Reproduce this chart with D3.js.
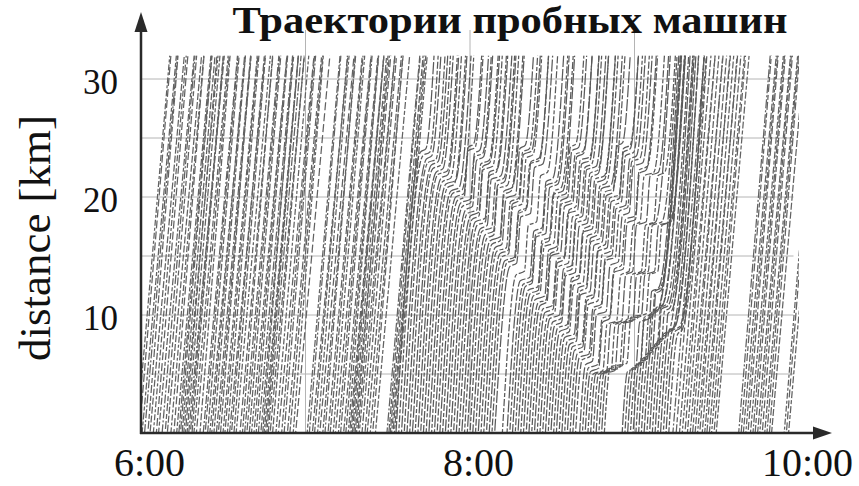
<!DOCTYPE html>
<html lang="ru">
<head>
    <meta charset="UTF-8">
    <title>Траектории пробных машин</title>
    <script src="https://d3js.org/d3.v7.min.js"></script>
    <style>
        body { margin: 0; background: #fff; }
        text { font-family: "Times New Roman", "Liberation Serif", serif; fill: #111; }
    </style>
</head>
<body>
    <div id="chart"></div>
    <script>
        // time in minutes after 6:00, distance in km
        const timeTicks = [0, 120, 240];
        const timeTickLabels = ["6:00", "8:00", "10:00"];
        const timeGrid = [60, 120, 180];
        const distTicks = [10, 20, 30];
        const distGrid = [5, 10, 15, 20, 25, 30];
        const roadLength = 32;

        // straight trips: [minute at km 0, minutes to drive the whole road]
        const freeTrips = [
            [-1.5,12],[-0.6,11.5],[0.4,12.5],[1.3,12],[2.5,11],[3.3,12.5],[4.5,12],[5.6,11.5],[6.4,13],[7.7,12],
            [8.8,11.5],[9.6,12.5],[10.9,12],[12.0,11],[13.0,12.5],[13.8,12],[14.4,11.5],[15.0,12],[15.6,12.5],[16.2,11.5],
            [16.8,12],[17.4,13],[18.0,12],[18.6,11.5],[19.3,12.5],[20.2,12],[21.5,11],[22.7,12.5],[23.4,12],[24.3,11.5],
            [25.1,13],[25.8,12],[26.6,11.5],[27.5,12.5],[28.2,12],[29.0,11],[29.9,12.5],[30.6,12],[31.5,11.5],[32.3,13],
            [33.0,12],[33.9,11.5],[34.7,12.5],[36.1,12],[37.0,11],[37.8,12.5],[38.6,12],[39.5,11.5],[40.3,13],[41.2,12],
            [42.0,11.5],[42.8,12.5],[43.7,12],[44.4,11],[44.9,12.5],[45.4,12],[45.9,11.5],[46.4,12],[47.1,12.5],[48.0,11.5],
            [49.2,12],[50.1,13],[51.3,12],[52.2,11.5],[53.4,12.5],[54.3,12],[55.5,11],[56.4,12.5],
            [60.6,12],[61.4,11.5],[62.5,13],[63.3,12],[64.4,11.5],[65.2,12.5],[66.3,12],[67.1,11],[68.2,12.5],[69.0,12],
            [70.1,11.5],[70.9,13],[72.0,12],[72.8,11.5],[73.9,12.5],[74.7,12],[75.6,11],[76.1,12.5],[76.6,12],[77.1,11.5],
            [77.6,12],[78.1,12.5],[78.6,11.5],[79.1,12],[79.6,13],[80.6,12],[81.7,11.5],[82.5,12.5],[83.6,12],[84.5,11],
            [85.5,12.5],[89.7,12],[90.4,11.5],[90.9,12],[91.4,12.5],[91.9,11.5],[92.4,12],
            [194.0,11.5],[195.2,11],[196.4,11.5],[197.4,12],[198.4,11],[199.3,11.5],[200.3,12],[201.2,11],
            [202.1,11.5],[203.0,12],[203.8,11],[204.7,11.5],[205.6,12],[206.4,11],[207.3,11.5],[208.1,12],
            [209.0,11.5],[209.8,12],[218.0,11.5],[218.9,11],[219.7,12],[220.6,11.5],[221.4,11],[222.3,12],[223.2,11.5],
            [224.0,11],[224.9,12],[225.7,11.5],[226.6,11],[227.5,12],[228.3,11.5],[229.2,11],[230.0,12],
            [234.6,11.5],[235.4,11],[236.2,12]
        ];

        // trips through the jam: [minute at km 0, free driving minutes, then pairs (km of slowdown, minutes lost)]
        const jamTrips = [
            [93,12,23.8,2.0],[94,12,23.5,2.5],[95,12.5,23.2,2.0],[96,12,22.9,3.0],[97,12.5,22.7,2.5],
            [98,12,22.4,3.0],[99,12.5,22.1,2.5],[100,12,21.9,3.5],[101,12.5,21.6,2.5],[102,12,21.3,3.0],
            [103,12.5,21.1,3.5],[104,12,20.8,2.5],[105,12.5,20.5,3.0],[106,12,20.3,3.5],
            [107,12.5,20.0,3.0,24.2,2.0],[108,12,19.7,2.5,23.9,2.5],[109,12.5,19.5,3.5,23.7,2.0],
            [110,12,19.2,3.0,23.4,3.0],[111,12.5,18.9,2.5,23.1,2.5],[112,12,18.6,3.5,22.8,3.0],
            [113,12.5,18.4,3.0,22.6,2.5],[114,12,18.1,2.5,22.3,3.5],[115,12.5,17.9,3.5,22.1,3.0],
            [116,12,17.6,3.0,21.8,2.5],[117,12.5,17.3,2.5,21.5,3.5],[118,12,17.1,3.5,21.3,3.0],
            [119,12.5,16.8,3.0,21.0,2.5],[120,12,16.5,2.5,20.7,3.5],[121,12.5,16.3,3.5,20.5,3.0],
            [122,12,16.0,3.0,20.2,2.5],
            [123,12.5,15.7,2.5,19.9,3.5,24.1,2.0],[124,12,15.4,3.5,19.6,3.0,23.8,2.5],
            [125,12.5,15.2,3.0,19.4,2.5,23.6,3.0],[126,12,14.9,2.5,19.1,3.5,23.3,2.5],
            [127,12.5,14.6,3.5,18.8,3.0,23.0,3.0],[128,12,14.4,3.0,18.6,2.5,22.8,3.5],
            [129,12.5,14.1,2.5,18.3,3.5,22.5,3.0],[131.8,12,13.4,3.0,17.6,3.0,21.8,2.5],
            [133.5,12,12.9,3.5,17.1,3.0,21.3,2.5],[134.5,12.5,12.6,3.0,16.8,2.5,21.0,3.5],
            [135.5,12,12.4,2.5,16.6,3.5,20.8,3.0],[136.5,12.5,12.1,3.5,16.3,3.0,20.5,2.5],
            [137.5,12,11.8,3.0,16.0,2.5,20.2,3.5],
            [138.5,12.5,11.6,2.5,15.8,3.5,20.0,3.0,24.2,2.0],[139.5,12,11.3,3.5,15.5,3.0,19.7,2.5,23.9,2.5],
            [140.5,12.5,11.0,3.0,15.2,2.5,19.4,3.5,23.6,3.0],[141.5,12,10.8,2.5,15.0,3.5,19.2,3.0,23.4,2.5],
            [142.5,12.5,10.5,3.5,14.7,3.0,18.9,2.5,23.1,3.5],[143.5,12,10.2,3.0,14.4,2.5,18.6,3.5,22.8,3.0],
            [144.5,12.5,9.9,2.5,14.1,3.5,18.3,3.0,22.5,2.5],[145.5,12,9.7,3.5,13.9,3.0,18.1,2.5,22.3,3.5],
            [146.5,12.5,9.4,3.0,13.6,2.5,17.8,3.5,22.0,3.0],[147.5,12,9.1,2.5,13.3,3.5,17.5,3.0,21.7,2.5],
            [148.5,12.5,8.9,3.5,13.1,3.0,17.3,2.5,21.5,3.5],[149.5,12,8.6,3.0,12.8,2.5,17.0,3.5,21.2,3.0],
            [150.5,12.5,8.3,2.5,12.5,3.5,16.7,3.0,20.9,2.5],[151.5,12,8.1,3.5,12.3,3.0,16.5,2.5,20.7,3.5],
            [152.5,12.5,7.8,3.0,12.0,2.5,16.2,3.5,20.4,3.0],
            [153.5,12,7.5,2.5,11.7,3.5,15.9,3.0,20.1,2.5,24.3,2.0],[154.5,12.5,7.3,3.5,11.5,3.0,15.7,2.5,19.9,3.5,24.1,2.5],
            [155.5,12,7.0,3.0,11.2,2.5,15.4,3.5,19.6,3.0,23.8,2.5],[156.5,12.5,6.7,2.5,10.9,3.5,15.1,3.0,19.3,2.5,23.5,3.0],
            [157.5,12,6.4,3.5,10.6,3.0,14.8,2.5,19.0,3.5,23.2,2.5],[158.5,12.5,6.2,3.0,10.4,2.5,14.6,3.5,18.8,3.0,23.0,3.0],
            [160,12,5.8,2.5,10.0,3.5,14.2,3.0,18.4,2.5,22.6,3.5],[161,12.5,5.5,3.5,9.7,3.0,13.9,2.5,18.1,3.5,22.3,3.0],
            [162,12,5.2,3.0,9.4,2.5,13.6,3.5,17.8,3.0,22.0,2.5],[163,12.5,5.0,3.5,9.2,3.5,13.4,3.0,17.6,2.5,21.8,3.5],
            [164,12,5.0,4.0,9.2,4.0,13.4,2.5,17.6,3.5,21.8,3.0],[165,12.5,5.0,4.5,9.2,4.5,13.4,3.5,17.6,3.0,21.8,2.5],
            [166,12,5.0,5.0,9.2,5.0,13.4,3.0,17.6,2.5],[167,12.5,5.2,5.5,9.4,5.0,13.4,2.5,17.6,3.5],
            [168,12,5.4,5.5,9.6,5.5,13.4,3.5,17.6,4.5],[169,12.5,5.6,6.0,9.8,5.5,13.4,3.0,17.6,3.0],
            [175.5,12,5.2,3.0,9.4,3.5,12.0,2.5],[176.5,12.5,5.4,3.5,9.6,3.0,12.0,2.0],[177.5,12,5.6,2.5,9.8,3.5,11.8,2.0],
            [178.5,12.5,5.8,3.0,10.0,3.0],[179.5,12,6.0,3.0,10.2,2.5],[180.5,12.5,6.3,2.5,10.4,3.0],
            [181.5,12,6.6,2.5,10.6,2.5],[182.5,12.5,6.9,3.0,10.6,2.0],[183.5,12,7.2,2.5,10.5,2.5],
            [184.5,12.5,7.5,2.5,10.3,2.0],[185.5,12,7.8,3.0,10.1,1.5],
            [186.5,12.5,8.1,2.5],[187.5,12,8.4,3.0],[188.5,12.5,8.6,2.5],[189.5,12,8.7,2.0],
            [190.5,12.5,8.7,2.5],[191.5,12,8.6,2.0],[192.5,12.5,8.4,1.5]
        ];

        const width = 859, height = 486;
        const x = d3.scaleLinear().domain([0, 240]).range([141, 799]);
        const y = d3.scaleLinear().domain([0, roadLength]).range([433, 55.4]);

        const svg = d3.select("#chart").append("svg")
            .attr("width", width)
            .attr("height", height);

        svg.append("defs").append("clipPath").attr("id", "plot")
            .append("rect")
            .attr("x", x(0)).attr("y", y(roadLength))
            .attr("width", x(240) - x(0)).attr("height", y(0) - y(roadLength));

        // grid
        svg.append("g").selectAll("line").data(distGrid).join("line")
            .attr("x1", x(0)).attr("x2", x(238))
            .attr("y1", d => y(d)).attr("y2", d => y(d))
            .attr("stroke", "#b4b4b4").attr("stroke-width", 1);
        svg.append("g").selectAll("line").data(timeGrid).join("line")
            .attr("x1", d => x(d)).attr("x2", d => x(d))
            .attr("y1", 30).attr("y2", y(0))
            .attr("stroke", "#b4b4b4").attr("stroke-width", 1);

        const line = d3.line().x(d => x(d[0])).y(d => y(d[1])).curve(d3.curveMonotoneX);

        // trajectory from start, pace and slowdowns
        function jamPath(row) {
            const t0 = row[0], pace = row[1] / roadLength;
            const pts = [[t0, 0]];
            let t = t0, k = 0;
            for (let i = 2; i < row.length; i += 2) {
                t += (row[i] - k) * pace;
                pts.push([t, row[i]]);
                t += row[i + 1];
                k = row[i] + 0.3;
                pts.push([t, k]);
            }
            pts.push([t + (roadLength - k) * pace, roadLength]);
            return pts;
        }

        const dashes = ["6,2,3,2", "8,3", "4,2,7,2", "9,2,2,2", "5,3,8,2", "7,2"];
        const plot = svg.append("g").attr("clip-path", "url(#plot)");

        plot.selectAll(".free").data(freeTrips).join("path")
            .attr("class", "free")
            .attr("fill", "none")
            .attr("stroke", "#626262")
            .attr("stroke-width", 1.25)
            .attr("stroke-dasharray", (d, i) => dashes[i % dashes.length])
            .attr("stroke-dashoffset", (d, i) => (i * 3.7) % 11)
            .attr("d", d => line([[d[0], 0], [d[0] + d[1], roadLength]]));

        plot.selectAll(".jam").data(jamTrips).join("path")
            .attr("class", "jam")
            .attr("fill", "none")
            .attr("stroke", "#5a5a5a")
            .attr("stroke-width", 1.25)
            .attr("stroke-dasharray", (d, i) => i % 2 === 0 ? "12,2" : "7,2,4,2")
            .attr("stroke-dashoffset", (d, i) => (i * 4.3) % 13)
            .attr("d", d => line(jamPath(d)));

        // axes with arrows
        svg.append("line").attr("x1", x(0)).attr("x2", x(0)).attr("y1", y(0) + 1).attr("y2", 30)
            .attr("stroke", "#2a2a2a").attr("stroke-width", 2.5);
        svg.append("path").attr("d", `M${x(0)},12 L${x(0) - 6.5},32 L${x(0) + 6.5},32 Z`).attr("fill", "#2a2a2a");
        svg.append("line").attr("x1", x(0) - 1).attr("x2", 815).attr("y1", y(0)).attr("y2", y(0))
            .attr("stroke", "#2a2a2a").attr("stroke-width", 2.5);
        svg.append("path").attr("d", `M832,${y(0)} L813,${y(0) - 6.5} L813,${y(0) + 6.5} Z`).attr("fill", "#2a2a2a");

        const xAxis = svg.append("g")
            .attr("transform", `translate(0,${y(0)})`)
            .call(d3.axisBottom(x).tickValues(timeTicks).tickSize(0).tickFormat((d, i) => timeTickLabels[i]));
        xAxis.select(".domain").remove();
        xAxis.selectAll("text")
            .attr("dx", 8).attr("dy", 0).attr("y", 43)
            .style("font-size", "40px").style("font-family", "'Times New Roman', 'Liberation Serif', serif").attr("fill", "#111");

        const yAxis = svg.append("g")
            .attr("transform", `translate(${x(0)},0)`)
            .call(d3.axisLeft(y).tickValues(distTicks).tickSize(0));
        yAxis.select(".domain").remove();
        yAxis.selectAll("text")
            .attr("x", -23).attr("dy", "0.41em")
            .style("font-size", "35px").style("font-family", "'Times New Roman', 'Liberation Serif', serif").attr("fill", "#111");

        svg.append("text")
            .attr("transform", "translate(50,238) rotate(-90)")
            .attr("text-anchor", "middle")
            .style("font-size", "45px")
            .text("distance [km]");

        svg.append("text")
            .attr("x", 510).attr("y", 33)
            .attr("text-anchor", "middle")
            .attr("textLength", 555)
            .attr("lengthAdjust", "spacingAndGlyphs")
            .style("font-size", "37px").style("font-weight", "bold")
            .attr("fill", "#000")
            .text("Траектории пробных машин");
    </script>
</body>
</html>
